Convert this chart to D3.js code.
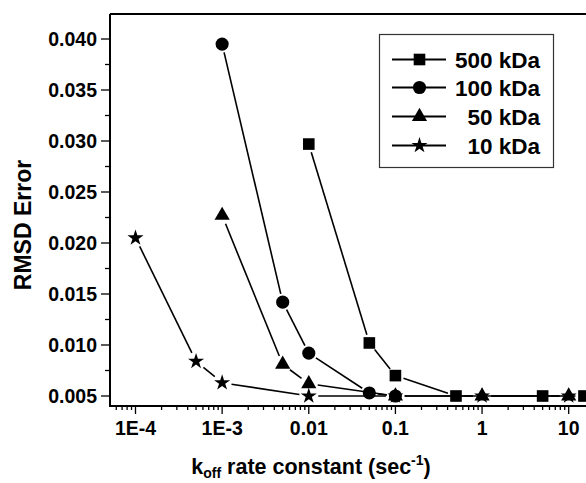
<!DOCTYPE html>
<html><head><meta charset="utf-8">
<script src="https://cdn.jsdelivr.net/npm/d3@7"></script>
<style>body{margin:0;background:#fff}svg{display:block}text{font-family:"Liberation Sans",Arial,sans-serif;font-weight:bold;fill:#000}</style>
</head><body>
<svg id="c" width="586" height="483"></svg>
<script>
const seriesNames = ["500 kDa","100 kDa","50 kDa","10 kDa"];
const x500 = [0.01,0.05,0.1,0.5,5,15];
const y500 = [0.0297,0.0102,0.0070,0.0050,0.0050,0.0050];
const x100 = [0.001,0.005,0.01,0.05,0.1];
const y100 = [0.0395,0.0142,0.0092,0.0053,0.0050];
const x50 = [0.001,0.005,0.01,0.1,1,10];
const y50 = [0.0227,0.0081,0.0062,0.0050,0.0050,0.0050];
const x10 = [1e-4,5e-4,1e-3,0.01,0.1,1,10];
const y10 = [0.0205,0.0084,0.0063,0.0050,0.0050,0.0050,0.0050];
const xTickVals = [1e-4,1e-3,0.01,0.1,1,10];
const xTickLabels = ["1E-4","1E-3","0.01","0.1","1","10"];
const yTickVals = [0.005,0.010,0.015,0.020,0.025,0.030,0.035,0.040];
const yTickLabels = ["0.005","0.010","0.015","0.020","0.025","0.030","0.035","0.040"];

(function(){
const svg = d3.select("#c");
const pLeft = 110, pTop = 14, pBottom = 406, pRight = 640;
const x = d3.scaleLog().domain([1e-4,10]).range([135.5,568.7]);
const y = d3.scaleLinear().domain([0.005,0.040]).range([396,39]);
const xmin = x.invert(pLeft), xmax = x.invert(pRight);

const symbols = [
  {type:d3.symbolSquare,size:135,r:6.5},
  {type:d3.symbolCircle,size:135,r:6.5},
  {type:d3.symbolTriangle,size:100,r:7},
  {type:d3.symbolStar,size:80,r:7.5}
];
const data = [[x500,y500],[x100,y100],[x50,y50],[x10,y10]];

svg.append("line").attr("x1",pLeft).attr("x2",pRight).attr("y1",pTop).attr("y2",pTop).attr("stroke","#000").attr("stroke-width",2);
svg.append("line").attr("x1",pLeft).attr("x2",pLeft).attr("y1",pTop).attr("y2",pBottom+1).attr("stroke","#000").attr("stroke-width",2);
svg.append("line").attr("x1",pLeft-1).attr("x2",pRight).attr("y1",pBottom).attr("y2",pBottom).attr("stroke","#000").attr("stroke-width",2);

const minorX = [];
for (let e=-5;e<=2;e++) for (let m=1;m<=9;m++){const v=m*Math.pow(10,e); if(v>xmin && v<xmax) minorX.push(v);}
const gx = svg.append("g").attr("transform",`translate(0,${pBottom})`);
gx.selectAll("line").data(minorX).join("line").attr("x1",d=>x(d)).attr("x2",d=>x(d)).attr("y1",0).attr("y2",d=>xTickVals.some(t=>Math.abs(t-d)/d<1e-6)?8:4).attr("stroke","#000").attr("stroke-width",1.3);
gx.selectAll("text").data(xTickVals).join("text").attr("x",d=>x(d)).attr("y",29).attr("text-anchor","middle").style("font-size","19.5px").text((d,i)=>xTickLabels[i]);

const minorY = d3.range(0.0025,0.0426,0.0025).filter(v=>y(v)<=pBottom && y(v)>=pTop);
const gy = svg.append("g");
gy.selectAll("line").data(minorY).join("line").attr("x1",pLeft).attr("x2",d=>Math.abs((d/0.005)-Math.round(d/0.005))<1e-6?pLeft-9:pLeft-5).attr("y1",d=>y(d)).attr("y2",d=>y(d)).attr("stroke","#000").attr("stroke-width",1.3);
gy.selectAll("text").data(yTickVals).join("text").attr("x",97).attr("y",d=>y(d)).attr("dy","0.36em").attr("text-anchor","end").style("font-size","19.5px").text((d,i)=>yTickLabels[i]);

svg.append("text").attr("transform","translate(31,225) rotate(-90)").attr("text-anchor","middle").style("font-size","23px").text("RMSD Error");
const xt = svg.append("text").attr("x",311).attr("y",474).attr("text-anchor","middle").style("font-size","21.5px");
xt.append("tspan").text("k");
xt.append("tspan").attr("dy",4).style("font-size","14px").text("off");
xt.append("tspan").attr("dy",-4).text(" rate constant (sec");
xt.append("tspan").attr("dy",-9).style("font-size","14px").text("-1");
xt.append("tspan").attr("dy",9).text(")");

const plot = svg.append("g");
function seg(p,q,r1,r2){
  const dx=q[0]-p[0], dy=q[1]-p[1], L=Math.hypot(dx,dy);
  if (L < r1+r2+1) return null;
  return [p[0]+dx*r1/L, p[1]+dy*r1/L, q[0]-dx*r2/L, q[1]-dy*r2/L];
}
data.forEach(([xs,ys],si)=>{
  const pts = xs.map((v,i)=>[x(v),y(ys[i])]);
  const gap = symbols[si].r+2;
  for(let i=0;i<pts.length-1;i++){
    const s = seg(pts[i],pts[i+1],gap,gap);
    if(!s) continue;
    plot.append("line").attr("x1",s[0]).attr("y1",s[1]).attr("x2",s[2]).attr("y2",s[3]).attr("stroke","#000").attr("stroke-width",1.6);
  }
});
data.forEach(([xs,ys],si)=>{
  plot.selectAll(null).data(xs).join("path")
    .attr("transform",(d,i)=>`translate(${x(d)},${y(ys[i])})`)
    .attr("d",d3.symbol().type(symbols[si].type).size(symbols[si].size)())
    .attr("fill","#000");
});

const lg = svg.append("g");
lg.append("rect").attr("x",379.5).attr("y",34.5).attr("width",174).attr("height",133).attr("fill","#fff").attr("stroke","#333").attr("stroke-width",1.2);
const rowY = [59.5,87.5,116.5,145.5];
seriesNames.forEach((n,i)=>{
  lg.append("line").attr("x1",392).attr("x2",446).attr("y1",rowY[i]).attr("y2",rowY[i]).attr("stroke","#000").attr("stroke-width",1.8);
  lg.append("path").attr("transform",`translate(419.5,${rowY[i]})`).attr("d",d3.symbol().type(symbols[i].type).size(symbols[i].size)()).attr("fill","#000");
  lg.append("text").attr("x",540).attr("y",rowY[i]).attr("dy","0.36em").attr("text-anchor","end").style("font-size","22.5px").text(n);
});
})();
</script>
</body></html>
